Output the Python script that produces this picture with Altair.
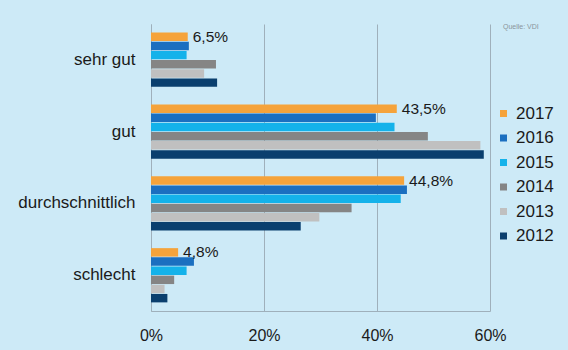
import altair as alt
import pandas as pd

categories = ["sehr gut", "gut", "durchschnittlich", "schlecht"]
years = ["2017", "2016", "2015", "2014", "2013", "2012"]
colors = ["#f5a33b", "#1b6fc0", "#14b2ea", "#858585", "#c0c0c0", "#0a3f6e"]

v2017 = [6.5, 43.5, 44.8, 4.8]
v2016 = [6.7, 39.8, 45.3, 7.6]
v2015 = [6.3, 43.1, 44.2, 6.3]
v2014 = [11.5, 49.0, 35.5, 4.1]
v2013 = [9.4, 58.3, 29.8, 2.4]
v2012 = [11.7, 58.9, 26.5, 2.9]
series = [v2017, v2016, v2015, v2014, v2013, v2012]

x_ticks = [0, 20, 40, 60]
source = "Quelle: VDI"

rows = []
for y, vals in zip(years, series):
    for c, v in zip(categories, vals):
        rows.append({"cat": c, "year": y, "value": v,
                     "label": f"{v:.1f}".replace(".", ",") + "%"})
df = pd.DataFrame(rows)

FONT = "Liberation Sans"
GRID = "#9fb0bb"
TXT = "#1a1a1a"

y_enc = alt.Y("cat:N", sort=categories, title=None,
              scale=alt.Scale(paddingInner=0.245, paddingOuter=0.12),
              axis=alt.Axis(labelFontSize=17, labelColor=TXT, ticks=False,
                            labelPadding=16, domain=True, domainColor=GRID, labelFont=FONT))
yoff = alt.YOffset("year:N", sort=years,
                   scale=alt.Scale(domain=years, paddingInner=0.08))
x_enc = alt.X("value:Q", title=None,
              scale=alt.Scale(domain=[0, 60], nice=False),
              axis=alt.Axis(values=x_ticks, labelExpr="datum.value + '%'",
                            labelFontSize=16, labelColor=TXT, ticks=False,
                            labelFlush=False, labelPadding=16,
                            grid=True, gridColor=GRID, domainColor=GRID,
                            labelFont=FONT))

bars = alt.Chart(df).mark_bar().encode(
    y=y_enc, yOffset=yoff, x=x_enc,
    color=alt.Color("year:N", sort=years,
                    scale=alt.Scale(domain=years, range=colors),
                    legend=alt.Legend(title=None, orient="none", legendX=344, legendY=81,
                                      symbolType="square", symbolSize=49,
                                      symbolStrokeWidth=0, labelFontSize=17,
                                      labelColor=TXT, labelFont=FONT,
                                      rowPadding=6.5, padding=0, labelOffset=4)),
)

labels = alt.Chart(df).transform_filter(alt.datum.year == "2017").mark_text(
    align="left", baseline="middle", dx=5, fontSize=15.5, font=FONT, color=TXT
).encode(y=y_enc, yOffset=yoff, x=x_enc, text="label:N")

src = alt.Chart(pd.DataFrame({"t": [source]})).mark_text(
    align="left", baseline="middle", fontSize=7, font=FONT, color="#8a959c"
).encode(x=alt.value(352), y=alt.value(3), text="t:N")

chart = alt.layer(bars, labels, src).properties(
    width=339, height=287,
    padding={"left": 151, "top": 24, "right": 78, "bottom": 39},
    autosize="none",
    background="#cdeaf7",
).configure_view(stroke=None)

chart.save("out.html", embed_options={"renderer": "svg", "actions": False})
